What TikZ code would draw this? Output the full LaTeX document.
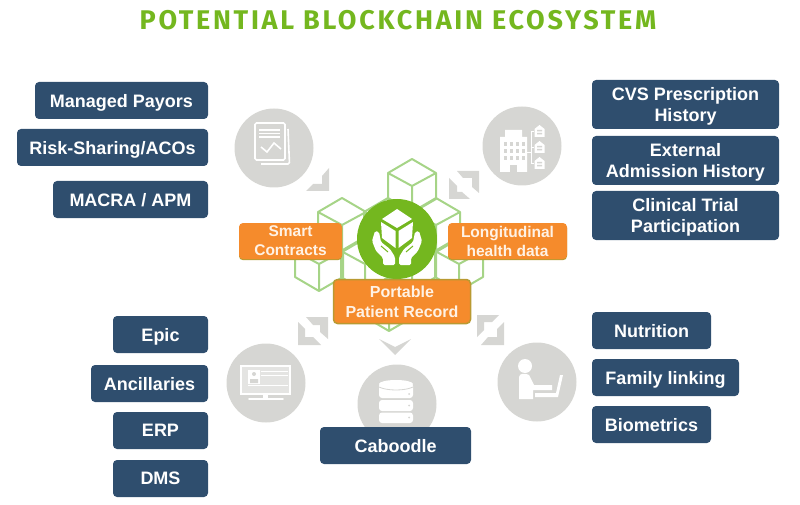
\documentclass[tikz,border=0pt]{standalone}
\usepackage{fontspec}
\setmainfont{Liberation Sans}
\newfontfamily\titlefont[LetterSpace=10]{Fira Sans}
\usetikzlibrary{positioning}
\definecolor{navy}{HTML}{2F4E6E}
\definecolor{leaf}{HTML}{74B71F}
\definecolor{cubegreen}{HTML}{A6D487}
\definecolor{tangerine}{HTML}{F58B2C}
\definecolor{olive}{HTML}{B99A32}
\definecolor{stone}{HTML}{D6D6D3}
\begin{document}
\begin{tikzpicture}[
		x=1pt, y=-1pt,
		block/.style={fill=navy, text=white, rounded corners=4pt, align=center, inner sep=0pt, outer sep=0pt, minimum height=37pt, text depth=0pt, font=\fontsize{18}{21}\selectfont\bfseries},
		tallblock/.style={block, minimum width=187pt, minimum height=49pt},
		tag/.style={fill=tangerine, text=white!90!orange, rounded corners=4pt, align=center, inner sep=0pt, outer sep=0pt, font=\fontsize{15.5}{19}\selectfont\bfseries},
		edged/.style={preaction={fill=olive, transform canvas={yshift=-1.2pt}}},
		disc/.style={circle, fill=stone, minimum size=79pt, inner sep=0pt},
		glyph/.style={fill=white, draw=none},
		glyphline/.style={draw=white, line width=1.6pt},
		cube/.pic={
			\draw[draw=cubegreen, line width=2pt, line join=round] (0,-27) -- (24,-13) -- (24,13) -- (0,27) -- (-24,13) -- (-24,-13) -- cycle
				(-24,-13) -- (0,0) -- (24,-13) (0,0) -- (0,27);
		}
	]
	\useasboundingbox (0,0) rectangle (800,505);

	\node[text=leaf, font=\fontsize{27}{30}\selectfont\titlefont\bfseries] (title) at (398,20.5) {POTENTIAL BLOCKCHAIN ECOSYSTEM};

	% icon discs
	\node[disc] (docs) at (274,148) {};
	\node[disc] (hospital) at (522,146) {};
	\node[disc] (monitor) at (266,383) {};
	\node[disc] (store) at (397,404) {};
	\node[disc] (person) at (537,382) {};

	% arrow heads
	\fill[stone] (329,168) -- (329,191) -- (306,191) -- (313,184) -- (322,184) -- (322,176) -- cycle;
	\fill[stone] (457,171) -- (479,171) -- (479,193) -- (472,187) -- (472,178) -- (463,178) -- cycle;
	\fill[stone] (449,178) -- (449,199) -- (470,199) -- (462,192) -- (457,192) -- (457,186) -- cycle;
	\fill[stone] (306,317) -- (328,317) -- (328,339) -- (320,332) -- (320,325) -- (313,325) -- cycle;
	\fill[stone] (298,322) -- (298,345) -- (321,345) -- (313,337) -- (305,337) -- (305,329) -- cycle;
	\fill[stone] (477,315) -- (499,315) -- (492,322) -- (484,322) -- (484,330) -- (477,337) -- cycle;
	\fill[stone] (504,322) -- (504,345) -- (481,345) -- (488,337) -- (497,337) -- (497,329) -- cycle;
	\fill[stone] (379,339) -- (395,347) -- (411,339) -- (395,355) -- cycle;

	% cubes
	\foreach \x/\y in {412/186, 342/225, 388/225, 436/225, 319/264, 365/264, 412/264, 459/264, 389/304}
		\pic at (\x,\y) {cube};

	% documents
	\draw[glyphline, rounded corners=1.5pt] (255,123) rectangle (285,160);
	\draw[glyphline, rounded corners=1.5pt] (288,129) -- (289.5,164) -- (261,164);
	\draw[glyphline, line width=1.2pt] (259,130) -- (280,130) (259,133.5) -- (280,133.5) (259,137) -- (280,137);
	\draw[glyphline] (261,147) -- (267,152) -- (274,143) -- (281,149);

	% hospital
	\fill[glyph] (505,130) rectangle (522,138) (500,137) rectangle (527,172);
	\fill[stone] (510,165) rectangle (517,172);
	\foreach \x in {504,510,516,522}
		\foreach \y in {142,149,156}
			\fill[stone] (\x,\y) rectangle +(2.5,4);
	\draw[glyphline, line width=.8pt] (527,152) -- (531,152) (534,131) -- (531,131) -- (531,163) -- (534,163) (531,147) -- (534,147);
	\foreach \y in {125,141,157} {
		\fill[glyph] (534.5,\y+4) -- (539.5,\y) -- (544.5,\y+4) -- (544.5,\y+12) -- (534.5,\y+12) -- cycle;
		\fill[stone] (537,\y+5) rectangle +(5,1.5) (537,\y+8) rectangle +(5,1.5);
	}

	% monitor
	\draw[glyphline] (241,366) rectangle (290,394);
	\fill[white!35!stone] (242,367) rectangle (289,393);
	\fill[glyph] (248,370) rectangle (260,384);
	\fill[stone] (254,374) circle (2) (250,383) rectangle (258,379);
	\draw[glyphline, line width=.7pt] (261,371) -- (288,371) (261,375) -- (288,375) (248,385) -- (288,385);
	\fill[glyph] (263,394) rectangle (268,398);
	\draw[glyphline, line cap=round] (249,399) -- (283,399);

	% database
	\fill[glyph, rounded corners=3pt] (379,383) rectangle (413,398);
	\fill[glyph] (396,384) ellipse (17 and 4);
	\fill[glyph, rounded corners=3pt] (379,400) rectangle (413,411);
	\fill[glyph, rounded corners=3pt] (379,412.5) rectangle (413,423);
	\draw[stone, line width=.8pt] (379,387) .. controls (387,391) and (405,391) .. (413,387);
	\fill[stone] (409,394) circle (1) (409,405.5) circle (1) (409,417.5) circle (1);

	% person
	\fill[glyph] (525,366) circle (7);
	\fill[glyph] (519,377) .. controls (519,373) and (526,373) .. (529,375) -- (534,385) -- (552,385) -- (552,390) -- (533,390) -- (533,399) -- (519,399) -- cycle;
	\fill[glyph] (535,393) -- (556,393) -- (560,375) -- (563,375) -- (558,397) -- (535,397) -- cycle;

	% centre badge
	\node[circle, fill=leaf, minimum size=80pt, inner sep=0pt] (badge) at (397,239) {};
	\fill[glyph] (397,209) -- (412,219) -- (397,228) -- (382,219) -- cycle;
	\fill[glyph] (381,222) -- (395.5,231) -- (395.5,248) -- (382,238) -- cycle;
	\fill[glyph] (413,222) -- (398.5,231) -- (398.5,248) -- (412,238) -- cycle;
	\foreach \flip in {1,-1} {
		\begin{scope}[shift={(397,0)}, xscale=\flip, shift={(-397,0)}]
			\fill[glyph, rounded corners=1.5pt] (375,231) -- (379,232) -- (381,242) -- (390,249) -- (395,257) -- (395,265) -- (383,265) -- (383,258) -- (376,251) -- (372,241) -- cycle;
			\draw[leaf, line width=1pt] (381,246) -- (388,252);
		\end{scope}
	}

	% orange tags
	\node[tag, edged, minimum width=103pt, minimum height=36pt] (smart) at (290.5,241) {Smart\\Contracts};
	\node[tag, edged, minimum width=119pt, minimum height=36pt] (longitudinal) at (507.5,241) {Longitudinal\\health data};
	\node[tag, draw=olive, line width=1.5pt, minimum width=137pt, minimum height=44pt, font=\fontsize{16}{20}\selectfont\bfseries] (portable) at (402,301.5) {Portable\\Patient Record};

	% upper left
	\node[block, minimum width=173pt] (payors) at (121.5,100.5) {Managed Payors};
	\node[block, minimum width=191pt, below left=10pt and 0pt of payors.south east] (risk) {Risk-Sharing/ACOs};
	\node[block, minimum width=155pt, below left=15pt and 0pt of risk.south east] (macra) {MACRA / APM};

	% upper right
	\node[tallblock] (cvs) at (685.5,104.5) {CVS Prescription\\History};
	\node[tallblock, below=7pt of cvs] (admission) {External\\Admission History};
	\node[tallblock, below=6pt of admission] (trial) {Clinical Trial\\Participation};

	% lower left
	\node[block, minimum width=95pt] (epic) at (160.5,334.5) {Epic};
	\node[block, minimum width=117pt, below left=12pt and 0pt of epic.south east] (ancillaries) {Ancillaries};
	\node[block, minimum width=95pt, below left=10pt and 0pt of ancillaries.south east] (erp) {ERP};
	\node[block, minimum width=95pt, below left=11pt and 0pt of erp.south east] (dms) {DMS};

	% lower right
	\node[block, minimum width=119pt] (nutrition) at (651.5,330.5) {Nutrition};
	\node[block, minimum width=147pt, below right=10pt and 0pt of nutrition.south west] (family) {Family linking};
	\node[block, minimum width=119pt, below right=10pt and 0pt of family.south west] (biometrics) {Biometrics};

	\node[block, minimum width=151pt] (caboodle) at (395.5,445.5) {Caboodle};
\end{tikzpicture}
\end{document}
